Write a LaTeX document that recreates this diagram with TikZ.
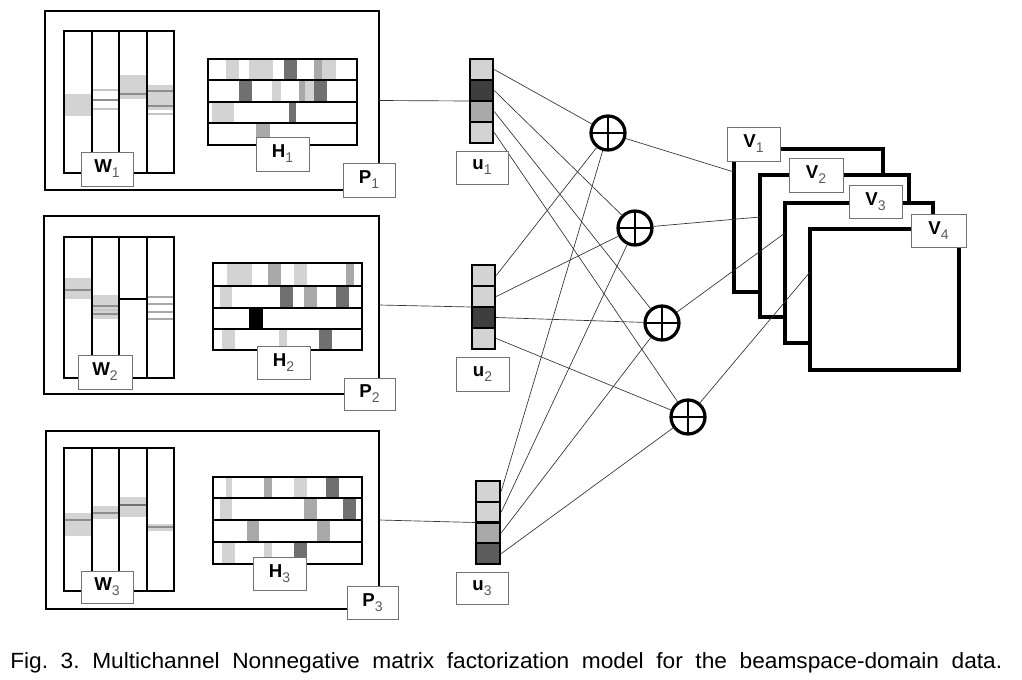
\documentclass[tikz,border=0pt]{standalone}
\usepackage{fontspec}
\usepackage{graphicx}
\setmainfont{Liberation Sans}
\usetikzlibrary{fit,calc}
\definecolor{lg}{HTML}{D3D3D3}
\definecolor{mg}{HTML}{A9A9A9}
\definecolor{dg}{HTML}{707070}
\definecolor{vdg}{HTML}{3E3E3E}
\definecolor{udg}{HTML}{5C5C5C}
\definecolor{bandline}{HTML}{8E8E8E}
\definecolor{lightline}{HTML}{C6C6C6}
\definecolor{subgray}{HTML}{5A5A5A}
\newcommand\lbl[2]{\textbf{#1}\raisebox{-0.5ex}{\fontsize{10.5}{12}\selectfont\color{subgray}#2}}
\newcommand\rectnode[7]{\node[#2, inner sep=0pt, outer sep=0pt,
   minimum width={(#5-#3)*0.75pt}, minimum height={(#6-#4)*0.75pt}]
   (#1) at ({(#3+#5)/2},{(#4+#6)/2}) {#7};}
\begin{document}
\begin{tikzpicture}[x=0.75pt,y=-0.75pt,
  frame/.style={draw=black, line width=1.7pt},
  mline/.style={draw=black, line width=1.8pt},
  vframe/.style={draw=black, line width=2.5pt, fill=white},
  lab/.style={draw=black!55, fill=white, line width=0.6pt, font=\fontsize{14}{16}\selectfont},
  conn/.style={draw=black!80, line width=0.5pt},
  ucell/.style={draw=black, line width=1.8pt},
  bl/.style={draw=bandline, line width=1.3pt},
  ll/.style={draw=lightline, line width=1.3pt},
  ml/.style={draw=mg, line width=1.3pt},
  sumnode/.style={circle, draw=black, line width=2.4pt, minimum size=25.5pt, inner sep=0pt,
    path picture={\draw[line width=2pt] (path picture bounding box.north) -- (path picture bounding box.south)
      (path picture bounding box.west) -- (path picture bounding box.east);}}
]
\useasboundingbox (0,0) rectangle (1022,679);

% ================= Panel 1 =================
\rectnode{p1}{frame}{45}{11}{379}{190}{}
\fill[lg] (64,94) rectangle (92,116);
\draw[ll] (92,90) -- (119,90);
\draw[bl] (92,100) -- (119,100);
\draw[ll] (92,109) -- (119,109);
\fill[lg] (119,75) rectangle (147,99);
\draw[bl] (119,94) -- (147,94);
\fill[lg] (147,85) rectangle (174,110);
\draw[bl] (147,91) -- (174,91);
\draw[bl] (147,106) -- (174,106);
\draw[ll] (147,114) -- (174,114);
\rectnode{w1}{mline}{64}{31}{174}{173}{}
\draw[mline] (92,31) -- (92,173) (119,31) -- (119,173) (147,31) -- (147,173);
\fill[lg] (226,59) rectangle (239,80);
\fill[lg] (249,59) rectangle (273,80);
\fill[dg] (284,59) rectangle (297,80);
\fill[mg] (314,59) rectangle (322,80);
\fill[lg] (322,59) rectangle (336,80);
\fill[dg] (239,80) rectangle (252,102);
\fill[lg] (272,80) rectangle (281,102);
\fill[mg] (299,80) rectangle (305,102);
\fill[lg] (305,80) rectangle (314,102);
\fill[dg] (314,80) rectangle (327,102);
\fill[lg] (212,102) rectangle (234,123);
\fill[dg] (289,102) rectangle (296,123);
\fill[mg] (256,123) rectangle (270,145);
\rectnode{h1}{mline}{208}{59}{357}{145}{}
\draw[mline] (208,80) -- (357,80) (208,102) -- (357,102) (208,123) -- (357,123);

% ================= Panel 2 =================
\rectnode{p2}{frame}{44}{216}{379}{394}{}
\fill[lg] (64,278) rectangle (92,299);
\draw[bl] (64,290) -- (92,290);
\fill[lg] (92,295) rectangle (119,319);
\draw[bl] (92,306) -- (119,306);
\draw[ll] (92,310) -- (119,310);
\draw[bl] (92,314) -- (119,314);
\draw[ml] (147,297) -- (174,297);
\draw[ml] (147,304) -- (174,304);
\draw[ml] (147,312) -- (174,312);
\draw[ml] (147,319) -- (174,319);
\rectnode{w2}{mline}{64}{237}{174}{378}{}
\draw[mline] (92,237) -- (92,378) (119,237) -- (119,378) (147,237) -- (147,378) (119,299) -- (147,299);
\fill[lg] (227,263) rectangle (252,286);
\fill[mg] (268,263) rectangle (281,286);
\fill[lg] (294,263) rectangle (307,286);
\fill[mg] (346,263) rectangle (354,286);
\fill[lg] (220,286) rectangle (232,308);
\fill[dg] (280,286) rectangle (293,308);
\fill[mg] (304,286) rectangle (317,308);
\fill[dg] (336,286) rectangle (349,308);
\fill[black] (249,308) rectangle (263,329);
\fill[lg] (222,329) rectangle (235,350);
\fill[lg] (279,329) rectangle (287,350);
\fill[dg] (319,329) rectangle (332,350);
\rectnode{h2}{mline}{213}{263}{362}{350}{}
\draw[mline] (213,286) -- (362,286) (213,308) -- (362,308) (213,329) -- (362,329);

% ================= Panel 3 =================
\rectnode{p3}{frame}{46}{431}{379}{609}{}
\fill[lg] (64,513) rectangle (92,536);
\draw[bl] (64,520) -- (92,520);
\fill[lg] (92,506) rectangle (119,519);
\draw[bl] (92,513) -- (119,513);
\fill[lg] (119,497) rectangle (147,517);
\draw[draw=dg, line width=1.3pt] (119,505) -- (147,505);
\fill[lg] (147,524) rectangle (174,531);
\draw[bl] (147,527) -- (174,527);
\rectnode{w3}{mline}{64}{448}{174}{591}{}
\draw[mline] (92,448) -- (92,591) (119,448) -- (119,591) (147,448) -- (147,591);
\fill[lg] (226,477) rectangle (232,498);
\fill[mg] (264,477) rectangle (272,498);
\fill[lg] (294,477) rectangle (307,498);
\fill[dg] (326,477) rectangle (339,498);
\fill[lg] (220,498) rectangle (232,520);
\fill[mg] (304,498) rectangle (317,520);
\fill[dg] (343,498) rectangle (356,520);
\fill[mg] (247,520) rectangle (259,542);
\fill[mg] (317,520) rectangle (330,542);
\fill[lg] (222,542) rectangle (235,564);
\fill[lg] (264,542) rectangle (272,564);
\fill[dg] (294,542) rectangle (307,564);
\rectnode{h3}{mline}{213}{477}{362}{564}{}
\draw[mline] (213,498) -- (362,498) (213,520) -- (362,520) (213,542) -- (362,542);

% ================= u vectors =================
\foreach \i/\c in {1/lg,2/vdg,3/mg,4/lg}
  \node[ucell, fill=\c, fit={(470,{59+(\i-1)*21}) (493,{59+\i*21})}, inner sep=0pt] (u1-\i) {};
\foreach \i/\c in {1/lg,2/lg,3/vdg,4/lg}
  \node[ucell, fill=\c, fit={(472,{265+(\i-1)*21}) (495,{265+\i*21})}, inner sep=0pt] (u2-\i) {};
\foreach \i/\c in {1/lg,2/lg,3/mg,4/udg}
  \node[ucell, fill=\c, fit={(476,{481+(\i-1)*20.75}) (500,{481+\i*20.75})}, inner sep=0pt] (u3-\i) {};
\node[inner sep=0pt, fit={(470,59) (493,143)}] (u1) {};
\node[inner sep=0pt, fit={(472,265) (495,349)}] (u2) {};
\node[inner sep=0pt, fit={(476,481) (500,564)}] (u3) {};

\draw[conn] (p1.east) -- (u1.west);
\draw[conn] (p2.east) -- (u2.west);
\draw[conn] (p3.east) -- (u3.west);

% ================= sum nodes =================
\node[sumnode] (s1) at (608,133) {};
\node[sumnode] (s2) at (635,228) {};
\node[sumnode] (s3) at (662,323) {};
\node[sumnode] (s4) at (688,417) {};

\foreach \u in {1,2,3}
  \foreach \k in {1,2,3,4}
    \draw[conn] (u\u-\k.east) -- (s\k);

% ================= V frames =================
\rectnode{v1}{vframe}{734}{149}{883}{292}{}
\rectnode{v2}{vframe}{760}{175}{909}{317}{}
\rectnode{v3}{vframe}{785}{203}{933}{343}{}
\rectnode{v4}{vframe}{810}{229}{959}{370}{}
\coordinate (v1in) at (734,172);
\coordinate (v2in) at (760,217);
\coordinate (v3in) at (785,233);
\coordinate (v4in) at (810,272);
\draw[conn] (s1) -- (v1in);
\draw[conn] (s2) -- (v2in);
\draw[conn] (s3) -- (v3in);
\draw[conn] (s4) -- (v4in);

% ================= labels =================
\rectnode{w1l}{lab}{81}{152}{133}{186}{\lbl{W}{1}}
\rectnode{h1l}{lab}{256}{137}{309}{171}{\lbl{H}{1}}
\rectnode{p1l}{lab}{343}{163}{395}{197}{\lbl{P}{1}}
\rectnode{w2l}{lab}{78}{355}{132}{389}{\lbl{W}{2}}
\rectnode{h2l}{lab}{257}{346}{310}{379}{\lbl{H}{2}}
\rectnode{p2l}{lab}{344}{378}{395}{410}{\lbl{P}{2}}
\rectnode{w3l}{lab}{81}{571}{133}{603}{\lbl{W}{3}}
\rectnode{h3l}{lab}{253}{557}{306}{590}{\lbl{H}{3}}
\rectnode{p3l}{lab}{347}{586}{398}{619}{\lbl{P}{3}}
\rectnode{u1l}{lab}{456}{151}{508}{184}{\lbl{u}{1}}
\rectnode{u2l}{lab}{456}{357}{509}{391}{\lbl{u}{2}}
\rectnode{u3l}{lab}{456}{572}{508}{604}{\lbl{u}{3}}
\rectnode{v1l}{lab}{727}{127}{780}{161}{\lbl{V}{1}}
\rectnode{v2l}{lab}{789}{158}{843}{192}{\lbl{V}{2}}
\rectnode{v3l}{lab}{849}{185}{902}{218}{\lbl{V}{3}}
\rectnode{v4l}{lab}{911}{214}{966}{247}{\lbl{V}{4}}

% ================= caption =================
\node[anchor=base west, inner sep=0pt] (cap) at (10,668)
  {\resizebox{744pt}{\height}{\fontsize{16.5}{19}\selectfont Fig.~~3.~~Multichannel~~Nonnegative~~matrix~~factorization~~model~~for~~the~~beamspace-domain~~data.}};
\end{tikzpicture}
\end{document}
